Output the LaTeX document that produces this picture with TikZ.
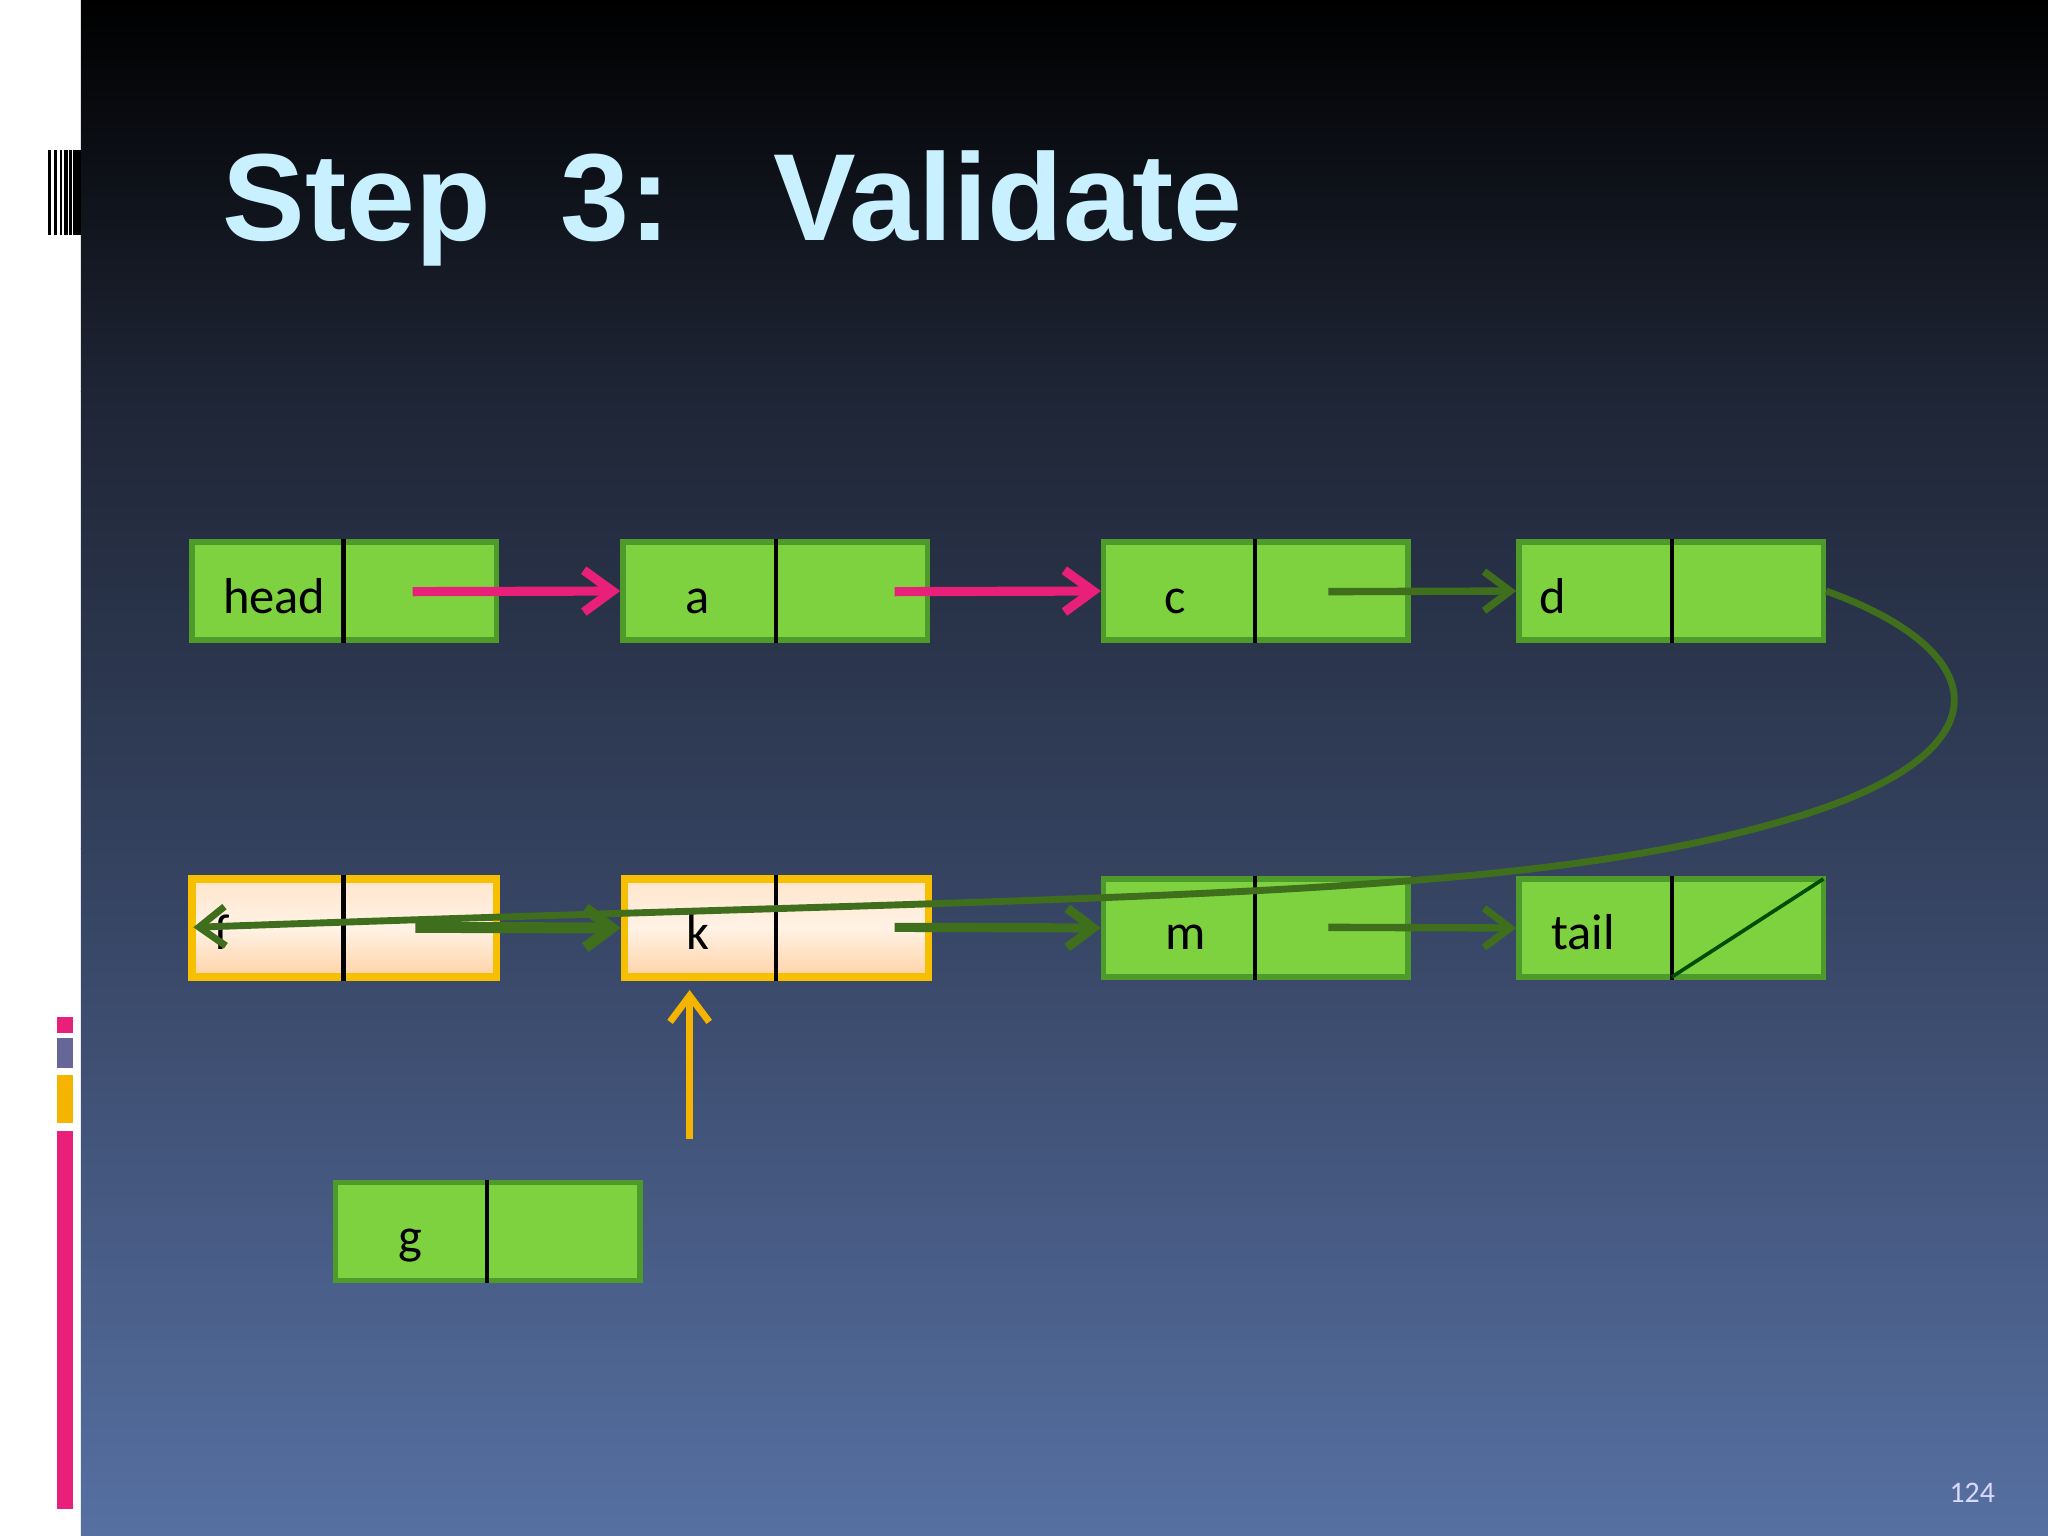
\documentclass[tikz,border=0pt]{standalone}
\usepackage{fontspec}
\setmainfont{Carlito}
\newfontfamily\titlefont{Liberation Sans}
\usetikzlibrary{arrows.meta}
\definecolor{boxgreen}{HTML}{7ED23F}
\definecolor{boxedge}{HTML}{4E9A2A}
\definecolor{darkline}{HTML}{3F6E1C}
\definecolor{pinkarrow}{HTML}{E8207A}
\definecolor{orangearrow}{HTML}{F5B400}
\definecolor{titlecol}{HTML}{C8F0FF}
\definecolor{bgtop}{HTML}{000000}
\definecolor{bgmid}{HTML}{1E2535}
\definecolor{bgmid2}{HTML}{34415E}
\definecolor{bgbot}{HTML}{5670A2}
\tikzset{
 cell/.style={draw=boxedge,line width=1.2pt,fill=boxgreen,minimum width=2.33cm,minimum height=0.75cm,inner sep=0pt},
 hot/.style={draw=orangearrow!85!yellow,line width=1.6pt,top color=orange!20!white,bottom color=orange!35!white,middle color=white!90!orange,minimum width=2.33cm,minimum height=0.75cm,inner sep=0pt},
 lbl/.style={font=\fontsize{11}{13}\selectfont,text=black,anchor=base},
 pinkar/.style={draw=pinkarrow,line width=2pt,-{Straight Barb[length=2.2mm,width=3.2mm]}},
 greenar/.style={draw=darkline,line width=1.6pt,-{Straight Barb[length=2mm,width=3mm]}},
 orar/.style={draw=orangearrow,line width=1.5pt,-{Straight Barb[length=2mm,width=3mm]}}
}
\begin{document}
\begin{tikzpicture}
\useasboundingbox (0,0) rectangle (15.68,-11.76);
\fill[white] (0,0) rectangle (0.62,-11.76);
\shade[top color=bgtop,bottom color=bgmid] (0.62,0) rectangle (15.68,-3.0);
\shade[top color=bgmid,bottom color=bgmid2] (0.62,-3.0) rectangle (15.68,-6.5);
\shade[top color=bgmid2,bottom color=bgbot] (0.62,-6.5) rectangle (15.68,-11.76);
% barcode
\foreach \x/\w in {0.37/0.02,0.41/0.03,0.46/0.015,0.49/0.03,0.53/0.02,0.56/0.04,0.6/0.02}
 \fill[black] (\x,-1.15) rectangle ++(\w,-0.65);
% left bars
\fill[pinkarrow] (0.44,-7.79) rectangle (0.56,-7.91);
\fill[gray!80!blue] (0.44,-7.95) rectangle (0.56,-8.18);
\fill[orangearrow] (0.44,-8.23) rectangle (0.56,-8.60);
\fill[pinkarrow] (0.44,-8.66) rectangle (0.56,-11.55);
% title
\node[anchor=base west,text=titlecol,font=\titlefont\bfseries\fontsize{27}{32}\selectfont,inner sep=0pt] (title) at (1.70,-1.84) {Step\ \ 3:\ \ \ Validate};
% row 1
\node[cell] (head) at (2.635,-4.525) {};
\node[cell] (a) at (5.935,-4.525) {};
\node[cell] (c) at (9.615,-4.525) {};
\node[cell] (d) at (12.795,-4.525) {};
% row 2
\node[hot] (f) at (2.635,-7.105) {};
\node[hot] (k) at (5.945,-7.105) {};
\node[cell] (m) at (9.615,-7.105) {};
\node[cell] (tail) at (12.795,-7.105) {};
\node[cell] (g) at (3.735,-9.43) {};
% dividers
\foreach \n/\x in {head/2.63,a/5.94,c/9.61,d/12.80,f/2.63,k/5.94,m/9.61,tail/12.80,g/3.73}
 \draw[black,line width=0.9pt] (\x,0 |- \n.north) -- (\x,0 |- \n.south);
\draw[black!70!green,line width=0.8pt] (12.80,-7.48) -- (13.96,-6.73);
% labels
\node[lbl] at (2.10,-4.70) {head};
\node[lbl] at (5.34,-4.70) {a};
\node[lbl] at (9.00,-4.70) {c};
\node[lbl] at (11.89,-4.70) {d};
\node[lbl] at (1.70,-7.27) {f};
\node[lbl] at (5.34,-7.27) {k};
\node[lbl] at (9.08,-7.27) {m};
\node[lbl] at (12.12,-7.27) {tail};
\node[lbl] at (3.14,-9.60) {g};
% connectors
\coordinate (hp) at (3.16,-4.53);
\coordinate (ap) at (6.85,-4.53);
\coordinate (cp) at (10.17,-4.53);
\draw[pinkar] (hp) -- (a.west);
\draw[pinkar] (ap) -- (c.west);
\draw[greenar] (cp) -- (d.west);
\coordinate (fp) at (3.18,-7.10);
\coordinate (kp) at (6.85,-7.10);
\coordinate (mp) at (10.17,-7.10);
\draw[greenar,line width=2.4pt] (fp) -- (k.west);
\draw[greenar,line width=2pt] (kp) -- (m.west);
\draw[greenar] (mp) -- (tail.west);
\draw[greenar,line width=1.5pt] (d.east) .. controls (15.3,-5.0) and (15.4,-5.8) .. (13.6,-6.3)
  .. controls (11.5,-6.9) and (8.5,-6.85) .. (1.48,-7.10);
\coordinate (gp) at (5.28,-8.72);
\draw[orar] (gp) -- (5.28,-7.58);
% page number
\node[text=white!85!blue,font=\fontsize{6.5}{8}\selectfont] (pg) at (15.10,-11.43) {124};
\end{tikzpicture}
\end{document}
